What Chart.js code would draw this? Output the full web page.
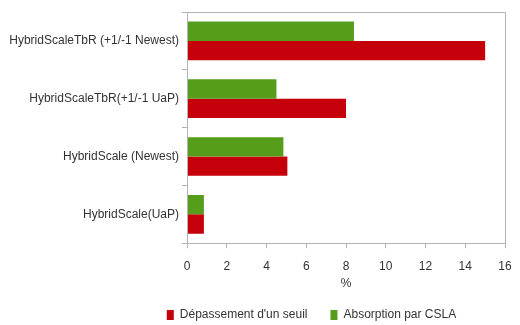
<!DOCTYPE html>
<html>
<head>
<meta charset="utf-8">
<script src="https://cdn.jsdelivr.net/npm/chart.js@4/dist/chart.umd.min.js"></script>
<style>
  html, body { margin: 0; padding: 0; background: #fff; }
  #wrap { width: 520px; height: 325px; }
</style>
</head>
<body>
<div id="wrap"><canvas id="myChart"></canvas></div>
<script>
const categories = [
  'HybridScaleTbR (+1/-1 Newest)',
  'HybridScaleTbR(+1/-1 UaP)',
  'HybridScale (Newest)',
  'HybridScale(UaP)'
];
const seriesNames = ["Dépassement d'un seuil", 'Absorption par CSLA'];
const depassement = [15, 8, 5.05, 0.85];
const absorption = [8.4, 4.5, 4.85, 0.85];
const xTicks = [0, 2, 4, 6, 8, 10, 12, 14, 16];

const axisGray = '#b3b3b3';
const textGray = '#333333';

// thin frame around the plot area
const frame = {
  id: 'frame',
  afterLayout(chart) {
    // legend sits a bit right of the canvas centre
    const lg = chart.legend;
    if (lg) { lg.left += 59; lg.right += 59; }
  },
  afterDraw(chart) {
    const a = chart.chartArea;
    const ctx = chart.ctx;
    ctx.save();
    ctx.strokeStyle = axisGray;
    ctx.lineWidth = 1;
    ctx.strokeRect(Math.round(a.left) + 0.5, Math.round(a.top) + 0.5,
      Math.round(a.right - a.left), Math.round(a.bottom - a.top));
    ctx.restore();
  }
};

const ctx = document.getElementById('myChart').getContext('2d');
const myChart = new Chart(ctx, {
  type: 'bar',
  data: {
    labels: categories,
    datasets: [
      {
        label: seriesNames[0],
        data: depassement,
        backgroundColor: '#c5000b',
        order: 1
      },
      {
        label: seriesNames[1],
        data: absorption,
        backgroundColor: '#579d1c',
        order: 0
      }
    ]
  },
  options: {
    indexAxis: 'y',
    responsive: true,
    maintainAspectRatio: false,
    animation: false,
    datasets: {
      bar: { barPercentage: 1, categoryPercentage: 0.67 }
    },
    layout: { padding: { left: 0, right: 15, top: 12, bottom: -6 } },
    plugins: {
      tooltip: { enabled: false },
      legend: {
        position: 'bottom',
        labels: {
          boxWidth: 7,
          boxHeight: 10,
          padding: 23,
          color: textGray,
          font: { family: 'Liberation Sans', size: 12 },
          sort: (a, b) => a.datasetIndex - b.datasetIndex
        }
      }
    },
    scales: {
      x: {
        min: 0,
        max: 16,
        afterBuildTicks(scale) {
          scale.ticks = xTicks.map(v => ({ value: v }));
        },
        afterFit(scale) { scale.paddingRight = 0; },
        ticks: {
          color: textGray,
          padding: 11,
          font: { family: 'Liberation Sans', size: 12 }
        },
        grid: { drawOnChartArea: false, color: axisGray, tickLength: 5 },
        border: { color: axisGray },
        title: {
          display: true,
          text: '%',
          color: textGray,
          padding: { top: -8, bottom: -5 },
          font: { family: 'Liberation Sans', size: 12 }
        }
      },
      y: {
        afterFit(scale) { scale.width = 187; },
        ticks: {
          color: textGray,
          padding: 3,
          font: { family: 'Liberation Sans', size: 12 }
        },
        grid: { drawOnChartArea: false, color: axisGray, tickLength: 5, offset: true },
        border: { color: axisGray }
      }
    }
  },
  plugins: [frame]
});
</script>
</body>
</html>
